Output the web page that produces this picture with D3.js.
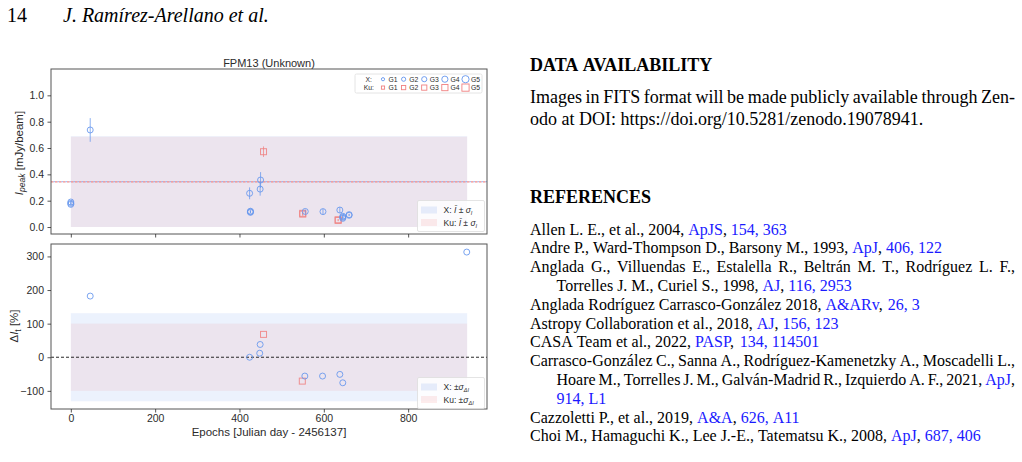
<!DOCTYPE html>
<html>
<head>
<meta charset="utf-8">
<script src="https://cdn.jsdelivr.net/npm/d3@7"></script>
<style>
  html, body { margin: 0; padding: 0; background: #fff; }
  svg { display: block; }
</style>
</head>
<body>
<svg width="1022" height="462"></svg>
<script>
// ---- chart data ----
// X band peak intensities [mJy/beam]
const xEpoch = [0, 0, 0, 46, 424, 426, 426, 426, 449, 450, 556, 598, 638, 645, 645, 645, 660, 660];
const xPeak  = [0.19, 0.18, 0.172, 0.737, 0.256, 0.12, 0.116, 0.111, 0.288, 0.357, 0.118, 0.117, 0.129, 0.082, 0.074, 0.066, 0.094, 0.089];
const xErr   = [0.01, 0.01, 0.01, 0.09, 0.045, 0.008, 0.008, 0.008, 0.05, 0.06, 0.015, 0.02, 0.022, 0.012, 0.012, 0.012, 0.006, 0.006];
// Ku band peak intensities
const kuEpoch = [457, 550, 550, 634, 634];
const kuPeak  = [0.572, 0.104, 0.098, 0.055, 0.05];
const kuErr   = [0.04, 0.015, 0.012, 0.006, 0.006];
// relative variation [%]
const xDeltaEpoch = [46, 424, 448, 449, 555, 597, 638, 645, 939];
const xDelta      = [182, 0, 12, 38, -56, -56, -51, -76, 313];
const kuDeltaEpoch = [457, 549];
const kuDelta      = [68, -71];
// mean +- std bands
const bandEpochs = [0, 940];
const xMean = 0.345, xStd = 0.345;
const kuMean = 0.343, kuStd = 0.343;
const xDeltaStd = 131, kuDeltaStd = 100;
const groups = ["G1", "G2", "G3", "G4", "G5"];
const topTicks = [0, 0.2, 0.4, 0.6, 0.8, 1.0];
const botTicks = [-100, 0, 100, 200, 300];
const epochTicks = [0, 200, 400, 600, 800];

// ---- page text ----
const pageNumber = "14";
const runningHead = "J. Ramírez-Arellano et al.";
const dataHeading = "DATA AVAILABILITY";
const dataLines = [
  "Images in FITS format will be made publicly available through Zen-",
  "odo at DOI: https://doi.org/10.5281/zenodo.19078941."
];
const refHeading = "REFERENCES";
// [..] marks link text; second field: hanging indent, third: justified
const refLines = [
  ["Allen L. E., et al., 2004, [ApJS], [154, 363]", false, false],
  ["Andre P., Ward-Thompson D., Barsony M., 1993, [ApJ], [406, 122]", false, false],
  ["Anglada G., Villuendas E., Estalella R., Beltrán M. T., Rodríguez L. F.,", false, true],
  ["Torrelles J. M., Curiel S., 1998, [AJ], [116, 2953]", true, false],
  ["Anglada Rodríguez Carrasco-González 2018, [A&ARv], [26, 3]", false, false],
  ["Astropy Collaboration et al., 2018, [AJ], [156, 123]", false, false],
  ["CASA Team et al., 2022, [PASP], [134, 114501]", false, false],
  ["Carrasco-González C., Sanna A., Rodríguez-Kamenetzky A., Moscadelli L.,", false, true],
  ["Hoare M., Torrelles J. M., Galván-Madrid R., Izquierdo A. F., 2021, [ApJ],", true, true],
  ["[914, L1]", true, false],
  ["Cazzoletti P., et al., 2019, [A&A], [626, A11]", false, false],
  ["Choi M., Hamaguchi K., Lee J.-E., Tatematsu K., 2008, [ApJ], [687, 406]", false, false]
];

const svg = d3.select("svg");
svg.append("rect").attr("width", 1022).attr("height", 462).attr("fill", "#fff");

const blue = "#6495ED", red = "#F08080", ink = "#2b2b2b";
const sans = "'Liberation Sans', Arial, sans-serif";
const serif = "'Liberation Serif', 'Times New Roman', serif";

const x = d3.scaleLinear().domain([-47, 987]).range([51, 487]);
const yTop = d3.scaleLinear().domain([-0.053, 1.2]).range([234, 69]);
const yBot = d3.scaleLinear().domain([-154, 337]).range([409, 244]);
const markerR = d3.scaleOrdinal(groups, [1.6, 2.1, 2.6, 3.1, 3.6]);

const chart = svg.append("g").attr("font-family", sans);

function styleAxis(g) {
  g.attr("font-family", sans).attr("font-size", 10.5);
  g.select(".domain").remove();
  g.selectAll(".tick line").attr("stroke", ink).attr("stroke-width", 0.8);
  g.selectAll(".tick text").attr("fill", ink);
}

function band(g, y, lo, hi, color) {
  g.append("rect")
    .attr("x", x(bandEpochs[0])).attr("width", x(bandEpochs[1]) - x(bandEpochs[0]))
    .attr("y", y(hi)).attr("height", y(lo) - y(hi))
    .attr("fill", color).attr("fill-opacity", 0.12);
}

function errBars(g, y, data, color) {
  g.selectAll(null).data(data).join("line")
    .attr("x1", d => x(d.e)).attr("x2", d => x(d.e))
    .attr("y1", d => y(d.v - d.s)).attr("y2", d => y(d.v + d.s))
    .attr("stroke", color).attr("stroke-opacity", 0.75).attr("stroke-width", 1);
}

function circles(g, y, ex, ey, err) {
  const data = ex.map((e, i) => ({ e, v: ey[i], s: err ? err[i] : 0 }));
  if (err) errBars(g, y, data, blue);
  g.selectAll(null).data(data).join("circle")
    .attr("cx", d => x(d.e)).attr("cy", d => y(d.v)).attr("r", 3)
    .attr("fill", "none").attr("stroke", blue).attr("stroke-opacity", 0.85).attr("stroke-width", 1);
}

function squares(g, y, ex, ey, err) {
  const data = ex.map((e, i) => ({ e, v: ey[i], s: err ? err[i] : 0 }));
  if (err) errBars(g, y, data, red);
  g.selectAll(null).data(data).join("rect")
    .attr("x", d => x(d.e) - 3).attr("y", d => y(d.v) - 3).attr("width", 6).attr("height", 6)
    .attr("fill", "none").attr("stroke", red).attr("stroke-opacity", 0.85).attr("stroke-width", 1);
}

// ---------- top panel ----------
const topPanel = chart.append("g");
band(topPanel, yTop, xMean - xStd, xMean + xStd, blue);
band(topPanel, yTop, kuMean - kuStd, kuMean + kuStd, red);
topPanel.append("line").attr("x1", 51).attr("x2", 487).attr("y1", yTop(kuMean)).attr("y2", yTop(kuMean))
  .attr("stroke", red).attr("stroke-width", 1.2).attr("stroke-dasharray", "2.5,1.5").attr("stroke-opacity", 0.9);
topPanel.append("line").attr("x1", 51).attr("x2", 487).attr("y1", yTop(xMean)).attr("y2", yTop(xMean))
  .attr("stroke", blue).attr("stroke-width", 1.2).attr("stroke-dasharray", "1.5,2.5")
  .attr("stroke-dashoffset", -2.5).attr("stroke-opacity", 0.55);
squares(topPanel, yTop, kuEpoch, kuPeak, kuErr);
circles(topPanel, yTop, xEpoch, xPeak, xErr);
topPanel.append("rect").attr("x", 51).attr("y", 69).attr("width", 436).attr("height", 165)
  .attr("fill", "none").attr("stroke", "#555").attr("stroke-width", 1);
topPanel.append("g").attr("transform", "translate(51,0)")
  .call(d3.axisLeft(yTop).tickValues(topTicks).tickFormat(d3.format(".1f")).tickSize(3.5).tickPadding(3.5))
  .call(styleAxis);
topPanel.append("g").attr("transform", "translate(0,234)")
  .call(d3.axisBottom(x).tickValues(epochTicks).tickFormat("").tickSize(3.5))
  .call(styleAxis);
topPanel.append("text").attr("x", 269).attr("y", 66.5).attr("text-anchor", "middle")
  .attr("font-size", 11).attr("fill", ink).text("FPM13 (Unknown)");
const ylab1 = topPanel.append("text").attr("transform", "translate(22.5,153) rotate(-90)")
  .attr("text-anchor", "middle").attr("font-size", 11.5).attr("fill", ink);
ylab1.append("tspan").attr("font-style", "italic").text("I");
ylab1.append("tspan").attr("font-style", "italic").attr("font-size", 8.5).attr("dy", 2.5).text("peak");
ylab1.append("tspan").attr("dy", -2.5).text(" [mJy/beam]");

// group legend
const lg = topPanel.append("g");
lg.append("rect").attr("x", 355).attr("y", 74).attr("width", 127).attr("height", 19).attr("rx", 1.5)
  .attr("fill", "#fff").attr("fill-opacity", 0.85).attr("stroke", "#ddd").attr("stroke-width", 0.8);
const legendX = d3.scalePoint(groups, [383, 465.5]);
[["X:", 79.2, "c"], ["Ku:", 87.6, "s"]].forEach(([lab, yy, kind]) => {
  lg.append("text").attr("x", kind === "c" ? 372 : 374).attr("y", yy + 2.4).attr("text-anchor", "end")
    .attr("font-size", 6.8).attr("fill", ink).text(lab);
  groups.forEach(gname => {
    const cx = legendX(gname), r = markerR(gname);
    if (kind === "c") {
      lg.append("circle").attr("cx", cx).attr("cy", yy).attr("r", r)
        .attr("fill", "none").attr("stroke", blue).attr("stroke-width", 0.9);
    } else {
      lg.append("rect").attr("x", cx - r).attr("y", yy - r).attr("width", 2 * r).attr("height", 2 * r)
        .attr("fill", "none").attr("stroke", red).attr("stroke-width", 0.9);
    }
    lg.append("text").attr("x", cx + 5.5).attr("y", yy + 2.4).attr("font-size", 6.8).attr("fill", ink).text(gname);
  });
});

function bandLegend(g, y0, labels) {
  g.append("rect").attr("x", 417.5).attr("y", y0).attr("width", 67).attr("height", 31).attr("rx", 1.5)
    .attr("fill", "#fff").attr("fill-opacity", 0.85).attr("stroke", "#ddd").attr("stroke-width", 0.8);
  [blue, red].forEach((c, i) => {
    const yy = y0 + 9.5 + i * 12.5;
    g.append("rect").attr("x", 421).attr("y", yy - 3.5).attr("width", 16).attr("height", 7)
      .attr("fill", c).attr("fill-opacity", 0.15);
    const t = g.append("text").attr("x", 443.5).attr("y", yy + 3).attr("font-size", 8.5).attr("fill", ink);
    labels[i](t);
  });
}
const sigmaI = (t, lab) => {
  t.append("tspan").text(lab + ": "); t.append("tspan").attr("font-style", "italic").text("Ī");
  t.append("tspan").text(" ± "); t.append("tspan").attr("font-style", "italic").text("σ");
  t.append("tspan").attr("font-style", "italic").attr("font-size", 5.5).attr("dy", 2).text("I");
};
const sigmaD = (t, lab) => {
  t.append("tspan").text(lab + ": ±"); t.append("tspan").attr("font-style", "italic").text("σ");
  t.append("tspan").attr("font-style", "italic").attr("font-size", 5.5).attr("dy", 2).text("ΔI");
};
bandLegend(topPanel, 200.5, [t => sigmaI(t, "X"), t => sigmaI(t, "Ku")]);

// ---------- bottom panel ----------
const botPanel = chart.append("g");
band(botPanel, yBot, -xDeltaStd, xDeltaStd, blue);
band(botPanel, yBot, -kuDeltaStd, kuDeltaStd, red);
botPanel.append("line").attr("x1", 51).attr("x2", 487).attr("y1", yBot(0)).attr("y2", yBot(0))
  .attr("stroke", "#111").attr("stroke-width", 0.9).attr("stroke-dasharray", "3,2");
squares(botPanel, yBot, kuDeltaEpoch, kuDelta, null);
circles(botPanel, yBot, xDeltaEpoch, xDelta, null);
botPanel.append("rect").attr("x", 51).attr("y", 244).attr("width", 436).attr("height", 165)
  .attr("fill", "none").attr("stroke", "#555").attr("stroke-width", 1);
botPanel.append("g").attr("transform", "translate(51,0)")
  .call(d3.axisLeft(yBot).tickValues(botTicks).tickSize(3.5).tickPadding(3.5))
  .call(styleAxis);
botPanel.append("g").attr("transform", "translate(0,409)")
  .call(d3.axisBottom(x).tickValues(epochTicks).tickSize(3.5).tickPadding(2))
  .call(styleAxis);
botPanel.append("text").attr("x", 269).attr("y", 436).attr("text-anchor", "middle")
  .attr("font-size", 11.5).attr("fill", ink).text("Epochs [Julian day - 2456137]");
const ylab2 = botPanel.append("text").attr("transform", "translate(18,326) rotate(-90)")
  .attr("text-anchor", "middle").attr("font-size", 11.5).attr("fill", ink);
ylab2.append("tspan").text("Δ");
ylab2.append("tspan").attr("font-style", "italic").text("I");
ylab2.append("tspan").attr("font-size", 8.5).attr("dy", 2.5).text("t");
ylab2.append("tspan").attr("dy", -2.5).text(" [%]");
bandLegend(botPanel, 377.5, [t => sigmaD(t, "X"), t => sigmaD(t, "Ku")]);

// ---------- page text ----------
const page = svg.append("g").attr("font-family", serif).attr("fill", "#000");
page.append("text").attr("x", 7).attr("y", 22).attr("font-size", 20).text(pageNumber);
page.append("text").attr("x", 63).attr("y", 22).attr("font-size", 20).attr("font-style", "italic").text(runningHead);

const ctx = document.createElement("canvas").getContext("2d");

function parseLine(str) {
  const words = [];
  let word = [], run = "", link = false;
  const flushRun = () => { if (run) word.push({ t: run, link }); run = ""; };
  for (const ch of str) {
    if (ch === "[") { flushRun(); link = true; }
    else if (ch === "]") { flushRun(); link = false; }
    else if (ch === " ") { flushRun(); if (word.length) words.push(word); word = []; }
    else run += ch;
  }
  flushRun();
  if (word.length) words.push(word);
  return words;
}

function textLine(str, x0, y, width, size, justify, weight) {
  ctx.font = `${weight || "normal"} ${size}px "Liberation Serif"`;
  const words = parseLine(str);
  const widths = words.map(w => d3.sum(w, r => ctx.measureText(r.t).width));
  let space = ctx.measureText(" ").width;
  if (justify && words.length > 1) space = (width - d3.sum(widths)) / (words.length - 1);
  let cx = x0;
  words.forEach((w, i) => {
    const t = page.append("text").attr("x", cx).attr("y", y).attr("font-size", size)
      .attr("font-weight", weight || "normal");
    w.forEach(r => t.append("tspan").attr("fill", r.link ? "#1a1aff" : "#000").text(r.t));
    cx += widths[i] + space;
  });
}

const colX = 530, colW = 485;
textLine(dataHeading, colX, 71, colW, 18, false, "bold");
dataLines.forEach((l, i) => textLine(l, colX, 103 + i * 21.8, colW, 18, i === 0));
textLine(refHeading, colX, 202.5, colW, 18, false, "bold");
refLines.forEach(([l, indent, just], i) => {
  const x0 = indent ? colX + 26.5 : colX;
  textLine(l, x0, 234.5 + i * 18.8, colX + colW - x0, 16, just);
});
</script>
</body>
</html>
